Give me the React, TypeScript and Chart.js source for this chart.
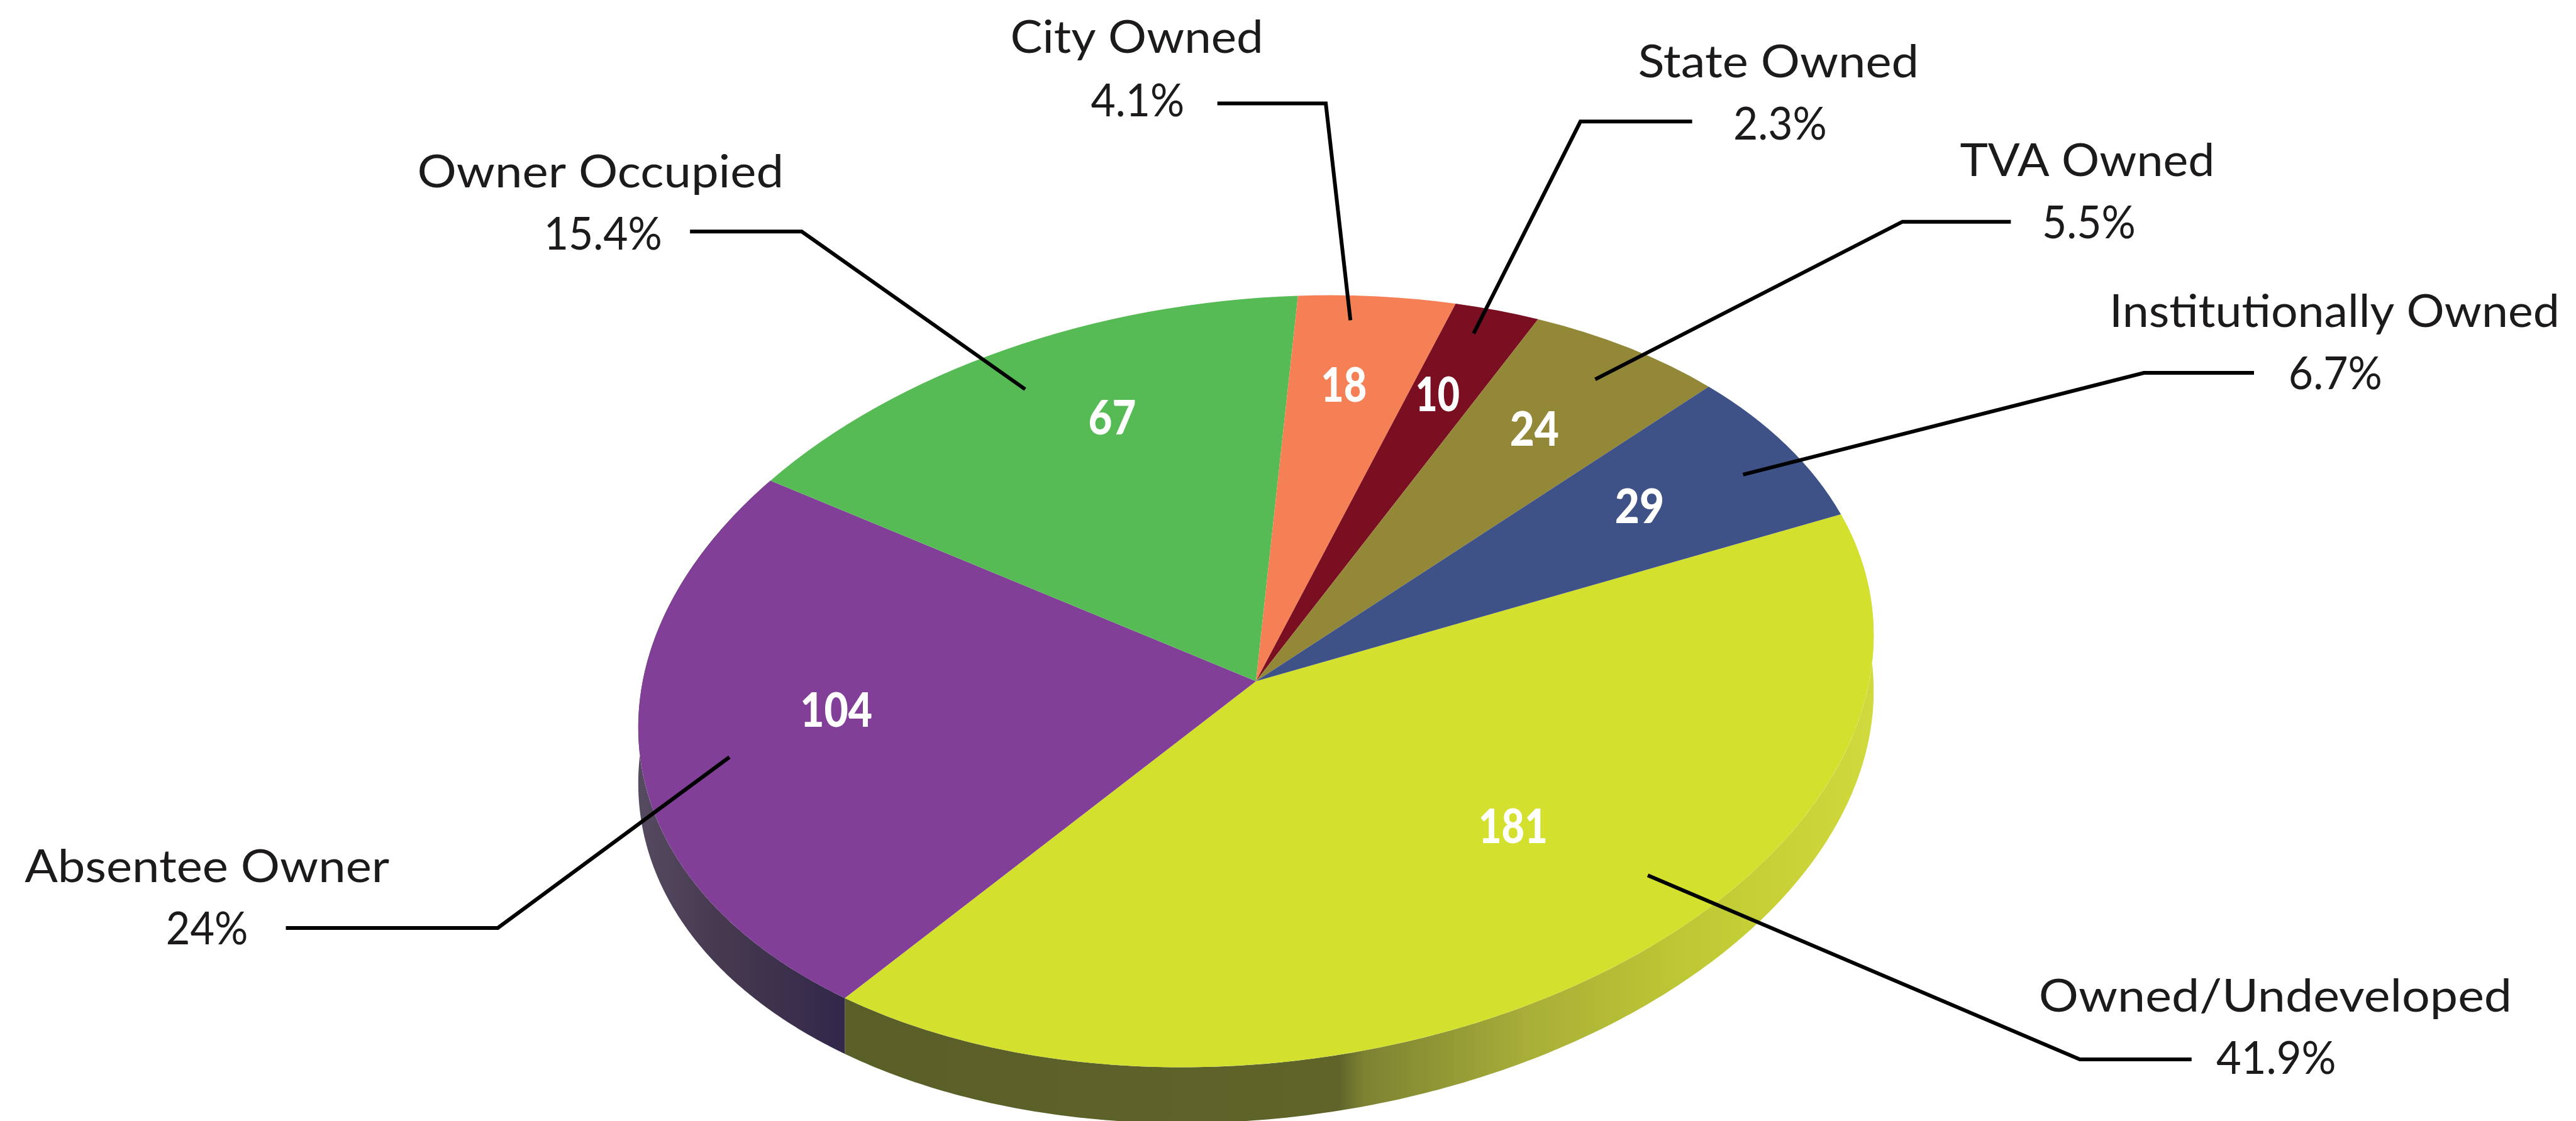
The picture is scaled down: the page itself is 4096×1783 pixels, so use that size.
import React, { useEffect, useRef } from "react";
import { Chart, registerables } from "chart.js";

Chart.register(...registerables);

const categories = ["Owned/Undeveloped", "Absentee Owner", "Owner Occupied", "City Owned", "State Owned", "TVA Owned", "Institutionally Owned"];
const counts = [181, 104, 67, 18, 10, 24, 29];
const percents = ["41.9%", "24%", "15.4%", "4.1%", "2.3%", "5.5%", "6.7%"];
const colors = ["#d3e02d", "#823f98", "#57bb55", "#f68055", "#7a0f22", "#938838", "#3f5287"];

const W = 4096;
const H = 1783;
const K = W / 1568;
const CX = 764.5 * K;
const CY = 414.8 * K;
const RX = 377.7 * K;
const RY = 232.3 * K;
const TILT = (6.9 * Math.PI) / 180;
const DEPTH = 34 * K;
const FONT = "Lato";

// layout, in 1568-wide picture units: name box [left, right, baseline], percent box, leader polyline, count box [centre x, centre y, width]
const nameBoxes = [[1241, 1529, 616], [15, 237, 537], [254, 477, 114], [615, 769, 32], [997, 1168, 47], [1193, 1348, 107], [1284, 1558, 199]];
const pctBoxes = [[1349, 1422, 654], [101, 151, 575], [331, 403, 152], [664, 721, 71], [1055, 1112, 85], [1243, 1300, 145], [1393, 1450, 237]];
const leaders = [
  [[1334, 645], [1266, 645], [1003, 533]],
  [[174, 565], [303, 565], [444, 461]],
  [[420, 141], [488, 141], [624, 237]],
  [[741, 63], [807, 63], [822, 195]],
  [[1030, 74], [962, 74], [897, 203]],
  [[1224, 135], [1158, 135], [971, 231]],
  [[1372, 227], [1305, 227], [1061, 289]],
];
const countBoxes = [[921, 503, 42], [509, 432, 44], [677, 254, 29], [818, 234, 28], [875, 240, 27], [934, 261, 30], [998, 308, 30]];

function applyFace(ctx: CanvasRenderingContext2D, arc: any, dy = 0) {
  const R = arc.outerRadius;
  ctx.translate(CX, CY + dy);
  ctx.rotate(-TILT);
  ctx.scale(RX / R, RY / R);
  ctx.translate(-arc.x, -arc.y);
}

function facePoint(arc: any, t: number, dy: number): [number, number] {
  const ex = RX * Math.cos(t);
  const ey = RY * Math.sin(t);
  return [CX + ex * Math.cos(TILT) + ey * Math.sin(TILT), CY + dy - ex * Math.sin(TILT) + ey * Math.cos(TILT)];
}

function sideGradient(ctx: CanvasRenderingContext2D, stops: [number, string][]) {
  const g = ctx.createLinearGradient(0, 0, W, 0);
  stops.forEach(([x, c]) => g.addColorStop((x * K) / W, c));
  return g;
}

const pieFace = {
  id: "pieFace",
  beforeDatasetsDraw(chart: any) {
    const ctx = chart.ctx;
    const arcs = chart.getDatasetMeta(0).data;
    const fills = [
      sideGradient(ctx, [[512, "#5a5f28"], [815, "#5f6429"], [830, "#7c8232"], [929, "#a8ae38"], [1014, "#bcc534"], [1070, "#c6d036"], [1141, "#d0da3d"]]),
      sideGradient(ctx, [[390, "#564a60"], [440, "#46394f"], [512, "#33284a"]]),
    ];
    fills.forEach((fill, i) => {
      const arc = arcs[i];
      const steps = 240;
      ctx.save();
      ctx.beginPath();
      for (let s = 0; s <= steps; s++) {
        const [x, y] = facePoint(arc, arc.startAngle + ((arc.endAngle - arc.startAngle) * s) / steps, 0);
        if (s === 0) ctx.moveTo(x, y);
        else ctx.lineTo(x, y);
      }
      for (let s = steps; s >= 0; s--) {
        const [x, y] = facePoint(arc, arc.startAngle + ((arc.endAngle - arc.startAngle) * s) / steps, DEPTH);
        ctx.lineTo(x, y);
      }
      ctx.closePath();
      ctx.fillStyle = fill;
      ctx.fill();
      ctx.restore();
    });
  },
  beforeDatasetDraw(chart: any) {
    const ctx = chart.ctx;
    ctx.save();
    applyFace(ctx, chart.getDatasetMeta(0).data[0]);
  },
  afterDatasetDraw(chart: any) {
    chart.ctx.restore();
  },
  afterDraw(chart: any) {
    const ctx = chart.ctx;
    const put = (text: string, left: number, width: number, base: number, font: string, color: string) => {
      ctx.save();
      ctx.font = font;
      ctx.fillStyle = color;
      ctx.textAlign = "left";
      ctx.textBaseline = "alphabetic";
      const natural = ctx.measureText(text).width;
      ctx.translate(left, base);
      ctx.scale(width / natural, 1);
      ctx.fillText(text, 0, 0);
      ctx.restore();
    };
    ctx.save();
    ctx.strokeStyle = "#000";
    ctx.lineWidth = 6;
    ctx.lineJoin = "miter";
    leaders.forEach((pts) => {
      ctx.beginPath();
      pts.forEach(([x, y], i) => (i ? ctx.lineTo(x * K, y * K) : ctx.moveTo(x * K, y * K)));
      ctx.stroke();
    });
    ctx.restore();
    categories.forEach((name, i) => {
      const nb = nameBoxes[i];
      const pb = pctBoxes[i];
      const cb = countBoxes[i];
      put(name, nb[0] * K, (nb[1] - nb[0]) * K, nb[2] * K, `400 71px ${FONT}`, "#1c1a1b");
      put(percents[i], pb[0] * K, (pb[1] - pb[0]) * K, pb[2] * K, `400 71px ${FONT}`, "#1c1a1b");
      put(String(counts[i]), (cb[0] - cb[2] / 2) * K, cb[2] * K, (cb[1] + 10.5) * K, `900 76px ${FONT}`, "#ffffff");
    });
  },
};

export default function App() {
  const ref = useRef<HTMLCanvasElement>(null);
  useEffect(() => {
    document.body.style.margin = "0";
    const chart = new Chart(ref.current!, {
      type: "pie",
      data: {
        labels: categories,
        datasets: [{ data: counts, backgroundColor: colors, borderWidth: 0, clip: false } as any],
      },
      options: {
        responsive: false,
        animation: false,
        rotation: 75.5,
        layout: { padding: 0 },
        plugins: { legend: { display: false }, tooltip: { enabled: false }, title: { display: false } },
        events: [],
      },
      plugins: [pieFace],
    } as any);
    return () => chart.destroy();
  }, []);
  return <canvas ref={ref} width={W} height={H} style={{ display: "block", width: W, height: H }} />;
}
